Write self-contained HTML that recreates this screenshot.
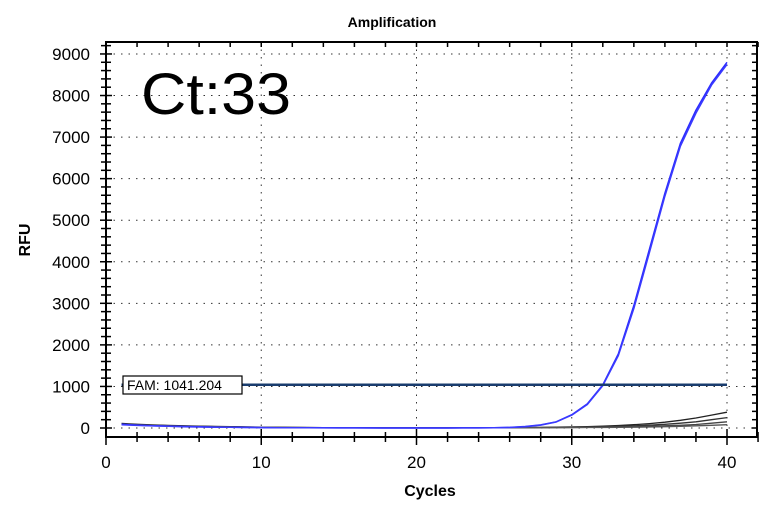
<!DOCTYPE html>
<html><head><meta charset="utf-8"><style>
body{margin:0;background:#fff;width:784px;height:516px;overflow:hidden}
svg{font-family:"Liberation Sans",sans-serif}
</style></head><body>
<svg id="c" width="784" height="516"></svg>
<script>
const xTicks=[0,10,20,30,40];
const yTicks=[0,1000,2000,3000,4000,5000,6000,7000,8000,9000];
const cycles=[1,2,3,4,5,6,7,8,9,10,11,12,13,14,15,16,17,18,19,20,21,22,23,24,25,26,27,28,29,30,31,32,33,34,35,36,37,38,39,40];
const blueA=[90,70,55,45,35,28,22,18,14,10,8,6,5,4,3,2,2,1,1,1,1,1,2,3,6,15,35,75,150,320,580,1040,1780,2950,4300,5650,6850,7650,8300,8800];
const blueB=[80,62,50,40,32,25,20,16,12,9,7,5,4,3,2,2,1,1,1,1,1,1,2,3,5,13,32,70,145,310,565,1020,1740,2880,4220,5580,6780,7580,8250,8750];
const blackA=[110,90,75,62,52,44,38,32,27,22,18,15,12,10,8,7,6,5,5,5,5,5,6,7,8,10,12,15,20,26,34,45,60,80,105,140,185,240,310,380];
const blackB=[100,82,68,56,47,40,34,29,24,20,16,13,11,9,8,7,6,5,5,5,5,5,5,6,7,8,10,12,15,19,24,30,40,52,68,90,115,150,200,250];
const blackC=[95,78,64,53,44,37,31,26,22,18,15,12,10,8,7,6,5,5,4,4,4,4,5,5,6,7,8,9,11,13,16,20,25,32,40,52,66,85,115,150];
const blackD=[85,70,58,48,40,33,28,24,20,16,13,11,9,8,6,5,5,4,4,4,4,4,4,4,5,5,6,7,8,9,11,13,16,20,25,32,40,52,65,80];
const threshold=1041.204;
const ns="http://www.w3.org/2000/svg",svg=document.getElementById('c');
const X=v=>106+v*15.525, Y=v=>428-v*0.04156;
function el(t,a,p){const e=document.createElementNS(ns,t);for(const k in a)e.setAttribute(k,a[k]);(p||svg).appendChild(e);return e;}
let e;
e=el('text',{x:392,y:27,'font-size':14,'font-weight':'bold','text-anchor':'middle'});e.textContent='Amplification';

for(const t of xTicks.slice(1)){e=el('line',{x1:X(t),x2:X(t),y1:42,y2:437,stroke:'#333','stroke-dasharray':'1.5,6'});
}
for(const t of yTicks){e=el('line',{x1:106,x2:757,y1:Y(t),y2:Y(t),stroke:'#333','stroke-dasharray':'1.5,6'});
}
e=el('rect',{x:106,y:42,width:651,height:395,fill:'none',stroke:'#000','stroke-width':2});

for(let v=0;v<=42;v+=2){const big=v%10==0;el('line',{x1:X(v),x2:X(v),y1:437-(big?8:5),y2:437+(big?8:5),stroke:'#000','stroke-width':1.5});el('line',{x1:X(v),x2:X(v),y1:42,y2:47,stroke:'#000','stroke-width':1.5});}
for(let v=0;v<=9200;v+=200){const big=v%1000==0;el('line',{x1:106-(big?6:5),x2:106+(big?6:5),y1:Y(v),y2:Y(v),stroke:'#000','stroke-width':1.5});el('line',{x1:752,x2:757,y1:Y(v),y2:Y(v),stroke:'#000','stroke-width':1.5});}
for(const t of xTicks){e=el('text',{x:X(t),y:468,'font-size':17,'text-anchor':'middle'});e.textContent=t;
}
for(const t of yTicks){e=el('text',{x:90,y:Y(t)+6,'font-size':17,'text-anchor':'end'});e.textContent=t;
}
e=el('text',{x:430,y:496,'font-size':16,'font-weight':'bold','text-anchor':'middle'});e.textContent='Cycles';

e=el('text',{x:30,y:240,'font-size':16,'font-weight':'bold','text-anchor':'middle',transform:'rotate(-90 30 240)'});e.textContent='RFU';

e=el('text',{x:141,y:114,'font-size':58,textLength:150,lengthAdjust:'spacingAndGlyphs'});e.textContent='Ct:33';

function line(d,c,name,w){const p=d.map((v,i)=>(i?'L':'M')+X(cycles[i]).toFixed(1)+','+Y(v).toFixed(1)).join('');
const e=el('path',{d:p,fill:'none',stroke:c,'stroke-width':w||1.3,'stroke-linejoin':'round'});
}
line(blackA,'#222','curve-black-1');line(blackB,'#333','curve-black-2');line(blackC,'#444','curve-black-3');line(blackD,'#555','curve-black-4');
line(blueA,'#2b2bff','curve-blue-1',1.5);line(blueB,'#3a3aff','curve-blue-2',1.5);
e=el('line',{x1:X(1),x2:X(40),y1:Y(threshold),y2:Y(threshold),stroke:'#1a3d6e','stroke-width':2.5});

e=el('rect',{x:123,y:376,width:119,height:18,fill:'#fff',stroke:'#000','stroke-width':1.2});

e=el('text',{x:127,y:390,'font-size':14});e.textContent='FAM: '+threshold.toFixed(3);

</script>
</body></html>
